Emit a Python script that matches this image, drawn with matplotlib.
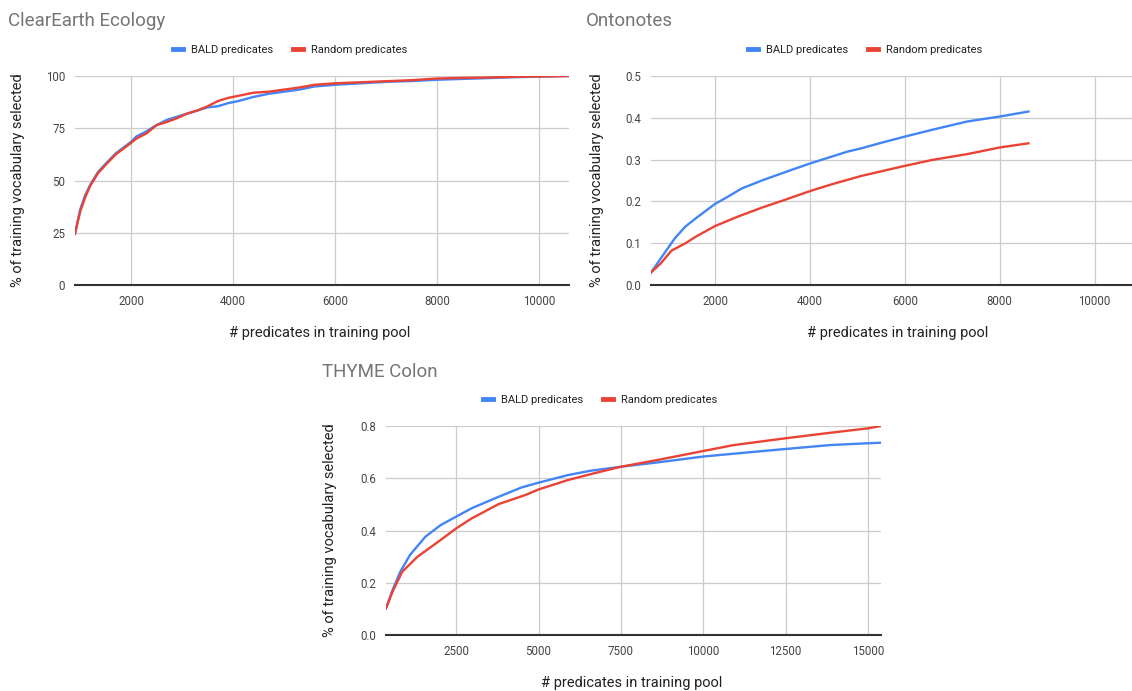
import numpy as np
import matplotlib
matplotlib.use('Agg')
import matplotlib.pyplot as plt
from matplotlib.lines import Line2D

plt.rcParams['font.family'] = ['Roboto', 'DejaVu Sans']

# ClearEarth Ecology
ce_x = [900, 1000, 1100, 1200, 1350, 1500, 1700, 2000, 2100, 2300, 2500, 2700, 2900, 3100,
        3300, 3500, 3700, 3900, 4100, 4400, 4700, 5000, 5300, 5600, 6000, 6500, 7000, 7500,
        8000, 8500, 9000, 9500, 10000, 10588]
ce_bald = [24.5, 36, 43, 48, 54, 58, 63, 68.5, 71, 73.5, 76.5, 79, 80.5, 82,
           83.5, 85, 85.5, 87, 88, 90, 91.5, 92.5, 93.5, 95, 95.8, 96.5, 97.2, 97.6,
           98.2, 98.6, 99, 99.4, 99.7, 100]
ce_rand = [24.5, 35, 42, 47.5, 53.5, 57.5, 62.5, 68, 70, 72.5, 76.5, 78, 79.8, 82,
           83.5, 85.5, 88, 89.5, 90.5, 92, 92.5, 93.5, 94.5, 95.8, 96.5, 97, 97.5, 98,
           98.8, 99.1, 99.3, 99.6, 99.8, 100]

# Ontonotes
on_xb = [650, 932, 1154, 1377, 1600, 2000, 2267, 2564, 3009, 3602, 4010, 4344, 4789,
         5085, 5530, 6000, 6567, 7310, 8000, 8608]
on_bald = [0.03, 0.076, 0.112, 0.14, 0.16, 0.194, 0.211, 0.231, 0.251, 0.275, 0.291,
           0.303, 0.319, 0.327, 0.341, 0.355, 0.371, 0.391, 0.403, 0.415]
on_xr = [650, 858, 1080, 1377, 1600, 2000, 2490, 3009, 3454, 4010, 4492, 5085, 6000,
         6567, 7310, 8000, 8608]
on_rand = [0.03, 0.052, 0.082, 0.10, 0.116, 0.141, 0.164, 0.186, 0.203, 0.225, 0.242,
           0.261, 0.285, 0.299, 0.313, 0.329, 0.339]

# THYME Colon
th_xb = [370, 569, 803, 1096, 1564, 2032, 2500, 2968, 3787, 4489, 5000, 5890, 6592,
         7500, 8700, 9990, 11270, 12500, 13850, 15000, 15398]
th_bald = [0.102, 0.172, 0.242, 0.306, 0.376, 0.421, 0.453, 0.485, 0.529, 0.565, 0.583,
           0.612, 0.629, 0.644, 0.662, 0.683, 0.698, 0.712, 0.727, 0.734, 0.736]
th_xr = [370, 569, 862, 1330, 1681, 2032, 2500, 2968, 3787, 4606, 5000, 5890, 6592,
         7500, 8700, 9990, 10926, 12500, 13850, 15000, 15398]
th_rand = [0.102, 0.166, 0.242, 0.300, 0.332, 0.364, 0.408, 0.446, 0.501, 0.536, 0.557,
           0.593, 0.616, 0.644, 0.672, 0.704, 0.727, 0.753, 0.774, 0.791, 0.800]

blue = '#4285F4'
red = '#EA4335'
W, H = 1132, 691

fig = plt.figure(figsize=(W / 100, H / 100), dpi=100)


def px(x0, y0, x1, y1):
    return [x0 / W, 1 - y1 / H, (x1 - x0) / W, (y1 - y0) / H]


def style(ax, xlim, ylim, xt, yt, ylabs):
    ax.set_xlim(*xlim)
    ax.set_ylim(*ylim)
    ax.set_xticks(xt)
    ax.set_yticks(yt)
    ax.set_yticklabels(ylabs)
    for s in ['top', 'right', 'left']:
        ax.spines[s].set_visible(False)
    ax.spines['bottom'].set_color('#333333')
    ax.spines['bottom'].set_linewidth(1.5)
    ax.grid(True, color='#cccccc', linewidth=0.9)
    ax.set_axisbelow(True)
    ax.tick_params(length=0, labelsize=8.3, labelcolor='#444444', pad=7)


def legend(x, y):
    h = [Line2D([], [], color=blue, lw=3.5), Line2D([], [], color=red, lw=3.5)]
    fig.legend(h, ['BALD predicates', 'Random predicates'], loc='center',
               bbox_to_anchor=(x / W, 1 - y / H), ncol=2, frameon=False,
               fontsize=8, handlelength=0.9, columnspacing=1.8, handletextpad=0.7,
               labelcolor='#222222')


# top-left
ax1 = fig.add_axes(px(75, 76, 569, 285))
ax1.plot(ce_x, ce_bald, color=blue, lw=1.7)
ax1.plot(ce_x, ce_rand, color=red, lw=1.7)
style(ax1, (900, 10588), (0, 100), [2000, 4000, 6000, 8000, 10000],
      [0, 25, 50, 75, 100], ['0', '25', '50', '75', '100'])

# top-right
ax2 = fig.add_axes(px(651, 76, 1132, 285))
ax2.plot(on_xb, on_bald, color=blue, lw=1.7)
ax2.plot(on_xr, on_rand, color=red, lw=1.7)
style(ax2, (650, 10790), (0, 0.5), [2000, 4000, 6000, 8000, 10000],
      [0, 0.1, 0.2, 0.3, 0.4, 0.5], ['0.0', '0.1', '0.2', '0.3', '0.4', '0.5'])

# bottom
ax3 = fig.add_axes(px(386, 426, 881, 635))
ax3.plot(th_xb, th_bald, color=blue, lw=1.7)
ax3.plot(th_xr, th_rand, color=red, lw=1.7)
style(ax3, (370, 15398), (0, 0.8), [2500, 5000, 7500, 10000, 12500, 15000],
      [0, 0.2, 0.4, 0.6, 0.8], ['0.0', '0.2', '0.4', '0.6', '0.8'])

tc = '#757575'
fig.text(8 / W, 1 - 21 / H, 'ClearEarth Ecology', color=tc, fontsize=13.5, va='center', ha='left')
fig.text(586 / W, 1 - 21 / H, 'Ontonotes', color=tc, fontsize=13.5, va='center', ha='left')
fig.text(322 / W, 1 - 372 / H, 'THYME Colon', color=tc, fontsize=13.5, va='center', ha='left')

legend(290, 50)
legend(865, 50)
legend(600, 400)

lc = '#222222'
yl = '% of training vocabulary selected'
xl = '# predicates in training pool'
fig.text(18 / W, 1 - 180 / H, yl, rotation=90, va='center', ha='center', fontsize=10.5, color=lc)
fig.text(597 / W, 1 - 180 / H, yl, rotation=90, va='center', ha='center', fontsize=10.5, color=lc)
fig.text(330 / W, 1 - 530 / H, yl, rotation=90, va='center', ha='center', fontsize=10.5, color=lc)
fig.text(320 / W, 1 - 333 / H, xl, va='center', ha='center', fontsize=10.5, color=lc)
fig.text(898 / W, 1 - 333 / H, xl, va='center', ha='center', fontsize=10.5, color=lc)
fig.text(632 / W, 1 - 683 / H, xl, va='center', ha='center', fontsize=10.5, color=lc)

fig.savefig('out.png', dpi=100)
